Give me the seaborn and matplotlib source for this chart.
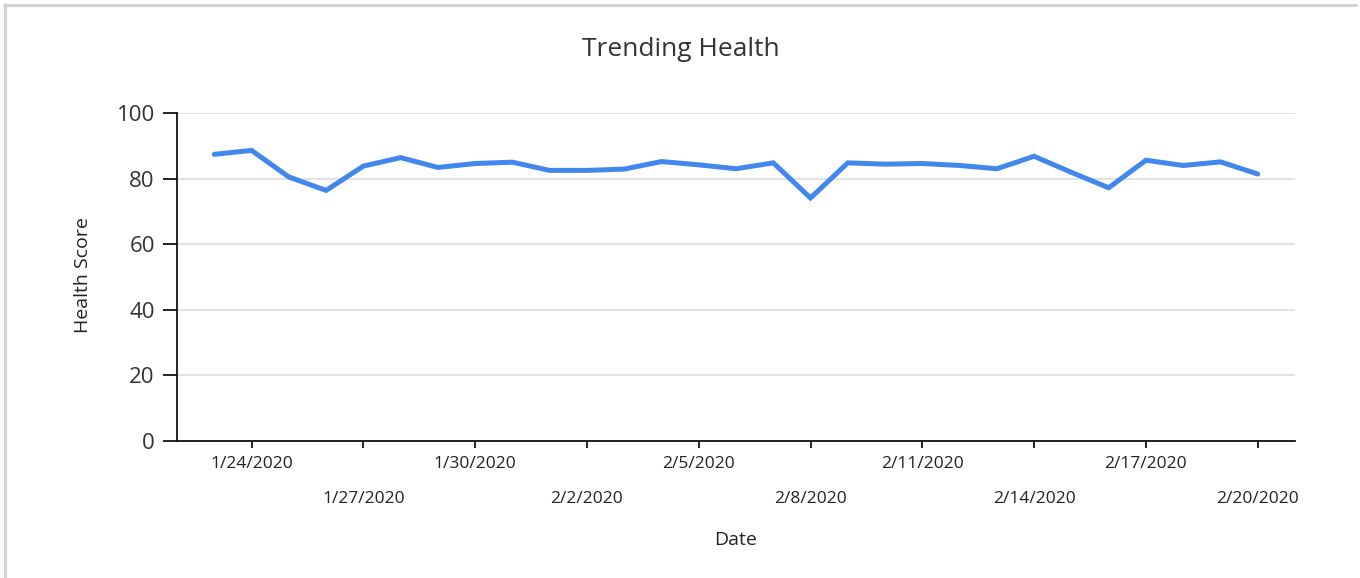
import matplotlib
matplotlib.use("Agg")
import matplotlib.pyplot as plt
import seaborn as sns
import pandas as pd
from matplotlib.lines import Line2D

# ---- data ----
dates = pd.date_range("2020-01-23", "2020-02-20", freq="D")
health_score = [87.4, 88.6, 80.5, 76.4, 83.8, 86.4, 83.4, 84.6, 85.0, 82.5,
                82.5, 82.9, 85.2, 84.2, 83.0, 84.8, 74.1, 84.8, 84.4, 84.6,
                84.0, 83.0, 86.8, 81.9, 77.2, 85.6, 84.0, 85.1, 81.4]
major_tick_dates = ["2020-01-24", "2020-01-30", "2020-02-05", "2020-02-11", "2020-02-17"]
major_tick_labels = ["1/24/2020", "1/30/2020", "2/5/2020", "2/11/2020", "2/17/2020"]
minor_tick_dates = ["2020-01-27", "2020-02-02", "2020-02-08", "2020-02-14", "2020-02-20"]
minor_tick_labels = ["1/27/2020", "2/2/2020", "2/8/2020", "2/14/2020", "2/20/2020"]
y_ticks = [0, 20, 40, 60, 80, 100]

df = pd.DataFrame({"Date": dates, "Health Score": health_score})

sns.set_theme(style="white")
plt.rcParams["font.family"] = ["Open Sans", "DejaVu Sans"]

fig = plt.figure(figsize=(13.6, 5.78), dpi=100)
ax = fig.add_axes([177/1360, 1 - 441/578, (1295 - 177)/1360, (441 - 113)/578])

sns.lineplot(data=df, x="Date", y="Health Score", ax=ax, color="#4287ec",
             linewidth=3.6, solid_joinstyle="miter")

ax.set_xlim(pd.Timestamp("2020-01-22"), pd.Timestamp("2020-02-21"))
ax.set_ylim(0, 100)
ax.set_yticks(y_ticks)
ax.set_yticklabels([str(v) for v in y_ticks], fontsize=16, color="#333333")
ax.yaxis.grid(True, color="#dddddd", linewidth=1.2)
ax.xaxis.grid(False)

ax.set_xticks(pd.to_datetime(major_tick_dates))
ax.set_xticklabels(major_tick_labels, fontsize=12.5, color="#222222")
ax.set_xticks(pd.to_datetime(minor_tick_dates), minor=True)
ax.set_xticklabels(minor_tick_labels, minor=True, fontsize=12.5, color="#222222")

ax.tick_params(axis="y", which="major", direction="out", length=10, width=1.3,
               color="#111111", left=True, pad=6)
ax.tick_params(axis="x", which="major", direction="out", length=5, width=1.3,
               color="#111111", bottom=True, pad=6)
ax.tick_params(axis="x", which="minor", direction="out", length=5, width=1.3,
               color="#111111", bottom=True, pad=31)

for side in ["top", "right"]:
    ax.spines[side].set_visible(False)
for side in ["left", "bottom"]:
    ax.spines[side].set_color("#111111")
    ax.spines[side].set_linewidth(1.3)

ax.set_xlabel("")
ax.set_ylabel("")
fig.text(736/1360, 1 - 540/578, "Date", ha="center", va="center",
         fontsize=14, color="#222222")
fig.text(83/1360, 1 - 275/578, "Health Score", ha="center", va="center",
         rotation=90, fontsize=14, color="#222222")
fig.text(681/1360, 1 - 49/578, "Trending Health", ha="center", va="center",
         fontsize=19, color="#333333")

# outer frame (top and left edges visible)
fig.add_artist(Line2D([4/1360, 1356/1360], [1 - 5/578, 1 - 5/578],
                      transform=fig.transFigure, color="#d3d3d3", linewidth=2.2))
fig.add_artist(Line2D([5/1360, 5/1360], [0, 1 - 4/578],
                      transform=fig.transFigure, color="#d3d3d3", linewidth=2.2))

fig.savefig("out.png", dpi=100)
